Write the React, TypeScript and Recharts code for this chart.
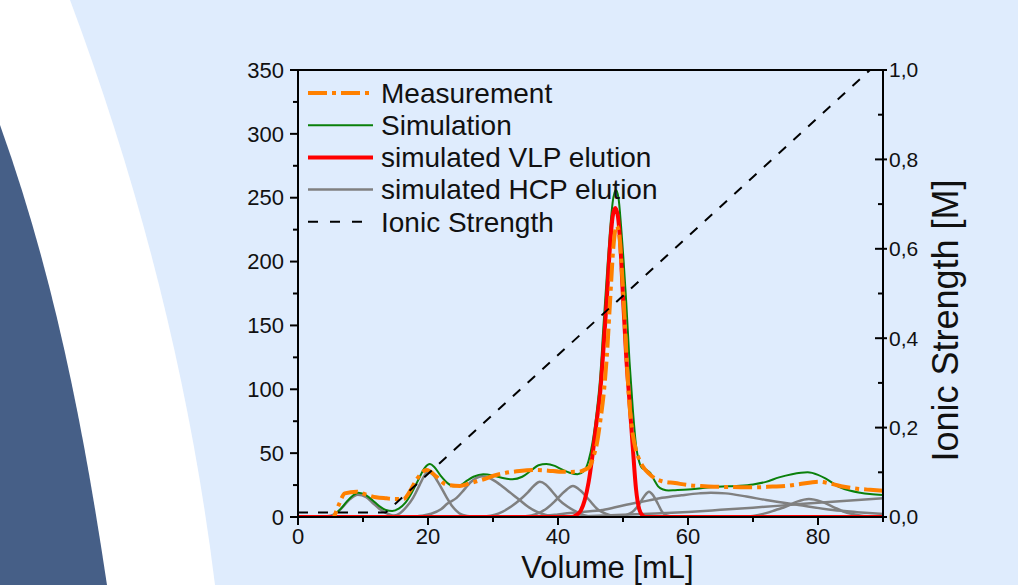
import { Label, Legend, Line, LineChart, XAxis, YAxis } from 'recharts';

type Pt = [number, number];

const FONT = '"Liberation Sans", Arial, sans-serif';

// axis ticks (majors get labels, the rest are minor ticks)
const volumeTicks = [0, 10, 20, 30, 40, 50, 60, 70, 80, 90];
const signalTicks = [0, 25, 50, 75, 100, 125, 150, 175, 200, 225, 250, 275, 300, 325, 350];
const ionicTicks = [0, 0.1, 0.2, 0.3, 0.4, 0.5, 0.6, 0.7, 0.8, 0.9, 1];

// [volume mL, signal]
const measurement: Pt[] = [
  [4.9, -9.4], [5.7, 2], [6.4, 11], [7.2, 18.5], [9, 19.8], [10.5, 17.5], [12, 15.5], [13.6, 14.6],
  [15, 14], [16.2, 14], [17.2, 20], [18.2, 29], [19.8, 36.8], [21.3, 31.6], [22.8, 25.5], [24.9, 24.3],
  [26.4, 26.4], [28.2, 29], [30.5, 32.9], [32.5, 35], [34.1, 36], [36.7, 36.8], [38.5, 36.3], [40.2, 35.5],
  [42, 35.3], [43.3, 35.5], [44.3, 37.5], [44.8, 39], [45.5, 48], [46, 58], [46.5, 75], [47, 95],
  [47.5, 125], [48, 168], [48.5, 210], [49, 228], [49.4, 222], [49.8, 195], [50.2, 160], [50.6, 120],
  [51, 88], [51.5, 65], [52, 52], [52.5, 45], [53, 40], [54, 34], [55, 30], [56, 28], [58, 26.6],
  [60, 25], [62, 24.2], [64, 23.7], [67, 23.5], [70, 23.2], [73, 23.8], [75, 24.3], [77, 25.6],
  [80.2, 27.6], [82, 26], [84, 23.7], [86.3, 22], [88, 21.3], [90, 20.6]
];

const simulation: Pt[] = [
  [5.5, 1.5], [6.5, 6], [7.5, 12], [8.5, 17], [9.3, 19], [10.5, 17], [11.5, 13], [12.5, 8.5],
  [13.5, 5.5], [14.5, 4.7], [15.5, 6.5], [16.5, 11], [17.5, 19], [18.5, 29], [19.5, 38.5], [20.3, 41.5],
  [21, 39], [22, 32], [23, 26.5], [24, 24], [25, 25], [26, 28.5], [27, 31.5], [28.5, 33.5], [30, 32.5],
  [31.5, 30.5], [33, 29.5], [34.5, 31.5], [36, 37], [37, 40.5], [38.2, 41.5], [39.5, 40], [40.5, 37.5],
  [41.8, 34.7], [43, 33.5], [44, 36], [44.7, 44], [45.3, 58], [45.9, 80], [46.5, 110], [47, 150],
  [47.5, 188], [48, 224], [48.4, 246], [48.9, 256], [49.3, 250], [49.7, 228], [50.1, 200], [50.5, 168],
  [51, 122], [51.5, 85], [52, 56], [52.5, 43], [53, 38], [53.6, 37], [54.2, 34.5], [54.8, 29],
  [55.4, 24], [56.2, 21.5], [57, 20.8], [58, 21], [60, 21.5], [62, 22.5], [64, 23.5], [66, 24],
  [68, 24.5], [70, 25.5], [72, 27.5], [74, 31], [76, 33.5], [78.4, 35], [80, 33], [81.2, 30],
  [83.2, 23.7], [85, 20.5], [86.5, 19], [88, 18], [90, 17.2]
];

const vlpElution: Pt[] = [
  [0, 0], [42, 0], [42.8, 1.5], [43.5, 5], [44.1, 13], [44.7, 27], [45.3, 48], [45.9, 73], [46.5, 98],
  [47, 132], [47.5, 170], [48, 212], [48.4, 235], [48.8, 242], [49.2, 236], [49.6, 212], [50, 172],
  [50.5, 125], [51, 90], [51.5, 55], [52, 22], [52.5, 6], [53, 1.2], [53.5, 0], [90, 0]
];

const hcpPeaks: Pt[][] = [
  [[0, 0], [3, 0], [5, 1], [6, 3.5], [7, 8.5], [8, 14], [9.2, 17.5], [10.5, 15.5], [11.5, 11], [12.5, 6.5],
    [13.5, 3.2], [14.5, 1.3], [16, 0.3], [18, 0]],
  [[13, 0], [14.5, 0.8], [15.7, 3], [16.7, 8], [17.7, 15], [18.7, 25], [19.4, 32], [20, 35.5], [20.8, 33],
    [21.7, 26], [22.8, 16], [23.8, 8], [24.8, 3], [26, 0.8], [28, 0]],
  [[17, 0], [19, 1], [20.5, 2.5], [22, 6], [23, 10.5], [24.4, 15], [25.5, 21], [26.5, 27], [27.4, 30.5],
    [28.3, 32], [29.5, 30.5], [30.5, 27.5], [31.5, 23.7], [32.8, 18.5], [34.1, 13.3], [35.4, 8], [36.7, 4.2],
    [38, 1.8], [39.2, 0.5], [41, 0]],
  [[27, 0], [29, 0.5], [30.3, 1.8], [31.5, 4.2], [32.8, 8.2], [34.1, 13.3], [35.4, 19.5], [36.3, 24.5],
    [37.2, 27.6], [38.1, 25.5], [39.1, 20], [40.2, 13.3], [41.5, 8], [42.8, 4.2], [44, 1.5], [45.4, 0.3], [47, 0]],
  [[33, 0], [35, 0.5], [36.7, 2.4], [38.2, 6.5], [39.7, 13.3], [41, 20], [42.3, 24.3], [43.5, 20.5],
    [44.8, 13.3], [46, 6.5], [47.9, 1.6], [49.5, 0.3], [51, 0]],
  [[35, 0], [37, 0.5], [40, 2], [43, 3.8], [46.9, 5.5], [50, 9], [54, 13], [56, 15], [59, 17], [61.7, 18.5],
    [63.5, 19], [65.8, 18.5], [69, 16], [72, 13.3], [77, 9.4], [82.3, 5.5], [86, 3.8], [90, 2.3]],
  [[49, 0], [50.5, 1.5], [51.5, 4.2], [52.5, 10], [53.3, 16.5], [54, 19.8], [54.7, 16.5], [55.4, 10],
    [56, 4.2], [56.6, 1.5], [58, 0]],
  [[68, 0], [70, 0.8], [72, 3], [73.5, 5.5], [75, 8], [76.8, 12], [78.6, 14], [80.5, 12], [82.3, 8],
    [83.8, 4.5], [85.3, 2.3], [87, 0.8], [90, 0.2]],
  [[40, 0], [45, 0.8], [50, 1.8], [55, 2.8], [60, 4], [65, 5.6], [70, 7.3], [75, 9.2], [80, 11.2],
    [85, 13], [90, 14.6]]
];

// [volume mL, ionic strength M]
const ionicStrength: Pt[] = [[0, 0.01], [13.5, 0.01], [88, 1]];

const legendItems = [
  { name: 'Measurement', color: '#ff8000', width: 4, dash: '19 5 4 5' },
  { name: 'Simulation', color: '#0a800a', width: 2, dash: undefined },
  { name: 'simulated VLP elution', color: '#ff0000', width: 4, dash: undefined },
  { name: 'simulated HCP elution', color: '#808080', width: 2.5, dash: undefined },
  { name: 'Ionic Strength', color: '#000000', width: 2, dash: '10 12' }
];

const rows = (pts: Pt[]) => pts.map(([x, y]) => ({ x, y }));

const LeftTick = (props: any) => {
  const { x, y, payload } = props;
  const major = payload.value % 50 === 0;
  return (
    <g>
      <line x1={x - (major ? 8 : 5)} x2={x} y1={y} y2={y} stroke='#000' strokeWidth={2} />
      {major && (
        <text x={x - 14} y={y} dy='0.35em' textAnchor='end' fontSize={22} fontFamily={FONT} fill='#111'>
          {payload.value}
        </text>
      )}
    </g>
  );
};

const RightTick = (props: any) => {
  const { x, y, payload } = props;
  const major = Math.round(payload.value * 10) % 2 === 0;
  return (
    <g>
      <line x1={x - (major ? 8 : 5)} x2={x + (major ? 4 : 0)} y1={y} y2={y} stroke='#000' strokeWidth={2} />
      {major && (
        <text x={x + 6} y={y} dy='0.35em' textAnchor='start' fontSize={21} fontFamily={FONT} fill='#111'>
          {payload.value.toFixed(1).replace('.', ',')}
        </text>
      )}
    </g>
  );
};

const BottomTick = (props: any) => {
  const { x, y, payload } = props;
  const major = payload.value % 20 === 0;
  return (
    <g>
      <line x1={x} x2={x} y1={y} y2={y + (major ? 8 : 5)} stroke='#000' strokeWidth={2} />
      {major && (
        <text x={x} y={y + 27} textAnchor='middle' fontSize={22} fontFamily={FONT} fill='#111'>
          {payload.value}
        </text>
      )}
    </g>
  );
};

const TopTick = (props: any) => {
  const { x, y, payload } = props;
  const major = payload.value % 20 === 0;
  return <line x1={x} x2={x} y1={y} y2={y + (major ? 8 : 5)} stroke='#000' strokeWidth={2} />;
};

const LegendBox = () => (
  <svg width={390} height={170}>
    {legendItems.map((item, i) => {
      const cy = 18 + i * 32.2;
      return (
        <g key={item.name}>
          <line
            x1={8}
            x2={item.dash === '10 12' ? 63 : 73}
            y1={cy}
            y2={cy}
            stroke={item.color}
            strokeWidth={item.width}
            strokeDasharray={item.dash}
          />
          <text x={81} y={cy} dy='0.35em' fontSize={28} fontFamily={FONT} fill='#111'>
            {item.name}
          </text>
        </g>
      );
    })}
  </svg>
);

export default function App() {
  return (
    <div
      style={{
        position: 'absolute',
        left: 0,
        top: 0,
        width: 1018,
        height: 585,
        overflow: 'hidden',
        background: '#dfecfd'
      }}>
      <svg width={1018} height={585} style={{ position: 'absolute', left: 0, top: 0 }}>
        <path d='M0 0 L70 0 C143 195 191 390 215 585 L0 585 Z' fill='#ffffff' />
        <path d='M0 125 C55 278 84 432 107 585 L0 585 Z' fill='#465f87' />
      </svg>
      <div style={{ position: 'absolute', left: 0, top: 0 }}>
        <LineChart width={1018} height={585} margin={{ top: 60, right: 75, bottom: 28, left: 238 }}>
          <XAxis
            dataKey='x'
            type='number'
            domain={[0, 90]}
            ticks={volumeTicks}
            interval={0}
            height={40}
            tickSize={0}
            tickMargin={0}
            tickLine={false}
            tick={<BottomTick />}
            axisLine={{ stroke: '#000', strokeWidth: 2 }}>
            <Label
              content={(p: any) => (
                <text
                  x={p.viewBox.x + p.viewBox.width / 2 + 17}
                  y={p.viewBox.y + 61}
                  textAnchor='middle'
                  fontSize={31}
                  fontFamily={FONT}
                  fill='#111'>
                  Volume [mL]
                </text>
              )}
            />
          </XAxis>
          <XAxis
            xAxisId='top'
            dataKey='x'
            type='number'
            orientation='top'
            domain={[0, 90]}
            ticks={volumeTicks}
            interval={0}
            height={10}
            tickSize={0}
            tickMargin={0}
            tickLine={false}
            tick={<TopTick />}
            axisLine={{ stroke: '#000', strokeWidth: 2 }}
          />
          <YAxis
            yAxisId='left'
            domain={[0, 350]}
            allowDataOverflow
            ticks={signalTicks}
            interval={0}
            width={60}
            tickSize={0}
            tickMargin={0}
            tickLine={false}
            tick={<LeftTick />}
            axisLine={{ stroke: '#000', strokeWidth: 2 }}
          />
          <YAxis
            yAxisId='right'
            orientation='right'
            domain={[0, 1]}
            ticks={ionicTicks}
            interval={0}
            width={60}
            tickSize={0}
            tickMargin={0}
            tickLine={false}
            tick={<RightTick />}
            axisLine={{ stroke: '#000', strokeWidth: 2 }}>
            <Label
              content={(p: any) => {
                const cx = p.viewBox.x + 75;
                const cy = p.viewBox.y + p.viewBox.height / 2 + 27;
                return (
                  <text
                    x={cx}
                    y={cy}
                    transform={`rotate(-90 ${cx} ${cy})`}
                    textAnchor='middle'
                    fontSize={36}
                    fontFamily={FONT}
                    fill='#111'>
                    Ionic Strength [M]
                  </text>
                );
              }}
            />
          </YAxis>
          <Legend
            layout='vertical'
            align='center'
            verticalAlign='middle'
            wrapperStyle={{ left: 300, top: 75, width: 390, height: 170 }}
            content={() => <LegendBox />}
          />
          {hcpPeaks.map((peak, i) => (
            <Line
              key={`hcp-${i}`}
              yAxisId='left'
              data={rows(peak)}
              dataKey='y'
              type='monotone'
              stroke='#808080'
              strokeWidth={2.5}
              dot={false}
              activeDot={false}
              isAnimationActive={false}
            />
          ))}
          <Line
            yAxisId='left'
            data={rows(simulation)}
            dataKey='y'
            type='monotone'
            stroke='#0a800a'
            strokeWidth={2}
            dot={false}
            activeDot={false}
            isAnimationActive={false}
          />
          <Line
            yAxisId='left'
            data={rows(vlpElution)}
            dataKey='y'
            type='monotone'
            stroke='#ff0000'
            strokeWidth={4}
            dot={false}
            activeDot={false}
            isAnimationActive={false}
          />
          <Line
            yAxisId='left'
            data={rows(measurement)}
            dataKey='y'
            type='monotone'
            stroke='#ff8000'
            strokeWidth={4}
            strokeDasharray='19 5 4 5'
            dot={false}
            activeDot={false}
            isAnimationActive={false}
          />
          <Line
            yAxisId='right'
            data={rows(ionicStrength)}
            dataKey='y'
            type='linear'
            stroke='#000'
            strokeWidth={2}
            strokeDasharray='10 10'
            dot={false}
            activeDot={false}
            isAnimationActive={false}
          />
        </LineChart>
      </div>
    </div>
  );
}
